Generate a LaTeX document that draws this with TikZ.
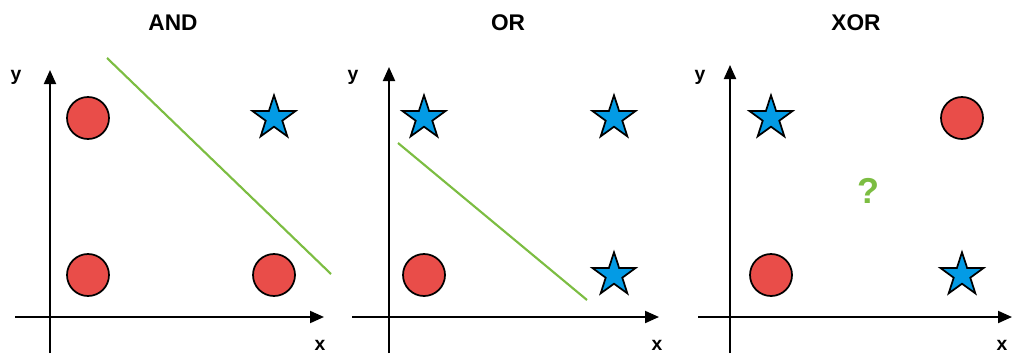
\documentclass[tikz,border=0pt]{standalone}
\usepackage{fontspec}
\setmainfont{Liberation Sans}
\usetikzlibrary{shapes.geometric, arrows.meta}
\definecolor{DotRed}{RGB}{233, 77, 73}
\definecolor{StarBlue}{RGB}{3, 155, 229}
\definecolor{SplitGreen}{RGB}{124, 189, 66}

\tikzset{
  axis/.style={line width=1.5pt, -{Triangle[length=10.5pt, width=9pt]}},
  zero/.style={circle, draw, line width=1.3pt, fill=DotRed, minimum size=31.5pt, inner sep=0pt},
  one/.style={star, star points=5, star point ratio=2.6, draw, line width=1.3pt, fill=StarBlue, minimum size=34pt, inner sep=0pt},
  split/.style={SplitGreen, line width=1.6pt},
  title/.style={font=\fontsize{17}{20}\selectfont\bfseries},
  lbl/.style={font=\fontsize{14.5}{17}\selectfont\bfseries}
}

\begin{document}
\begin{tikzpicture}[x=0.75pt, y=-0.75pt]
      \useasboundingbox (0,0) rectangle (1012,353);

      % AND
      \node[title] (andT) at (173,23) {AND};
      \coordinate (andX0) at (15,317);
      \coordinate (andX1) at (324,317);
      \coordinate (andY0) at (50,353);
      \coordinate (andY1) at (50,70);
      \draw[axis] (andX0) -- (andX1);
      \draw[axis] (andY0) -- (andY1);
      \node[lbl] (andx) at (320,345) {x};
      \node[lbl] (andy) at (16,77) {y};
      \node[zero] (and00) at (88,275) {};
      \node[zero] (and01) at (88,118) {};
      \node[zero] (and10) at (274,275) {};
      \node[one] (and11) at (274,118) {};
      \coordinate (andS0) at (107,58);
      \coordinate (andS1) at (331,274);
      \draw[split] (andS0) -- (andS1);

      % OR
      \node[title] (orT) at (508,23) {OR};
      \coordinate (orX0) at (352,317);
      \coordinate (orX1) at (659,317);
      \coordinate (orY0) at (389,353);
      \coordinate (orY1) at (389,67);
      \draw[axis] (orX0) -- (orX1);
      \draw[axis] (orY0) -- (orY1);
      \node[lbl] (orx) at (657,345) {x};
      \node[lbl] (ory) at (353,77) {y};
      \node[zero] (or00) at (424,275) {};
      \node[one] (or01) at (424,118) {};
      \node[one] (or10) at (614,275) {};
      \node[one] (or11) at (614,118) {};
      \coordinate (orS0) at (398,143);
      \coordinate (orS1) at (587,300);
      \draw[split] (orS0) -- (orS1);

      % XOR
      \node[title] (xorT) at (856,23) {XOR};
      \coordinate (xorX0) at (698,317);
      \coordinate (xorX1) at (1012,317);
      \coordinate (xorY0) at (730,353);
      \coordinate (xorY1) at (730,65);
      \draw[axis] (xorX0) -- (xorX1);
      \draw[axis] (xorY0) -- (xorY1);
      \node[lbl] (xorx) at (1002,345) {x};
      \node[lbl] (xory) at (700,77) {y};
      \node[zero] (xor00) at (771,275) {};
      \node[one] (xor01) at (771,118) {};
      \node[one] (xor10) at (962,275) {};
      \node[zero] (xor11) at (962,118) {};
      \node[SplitGreen, font=\fontsize{27}{30}\selectfont\bfseries] (xorQ) at (868,191) {?};
\end{tikzpicture}
\end{document}
